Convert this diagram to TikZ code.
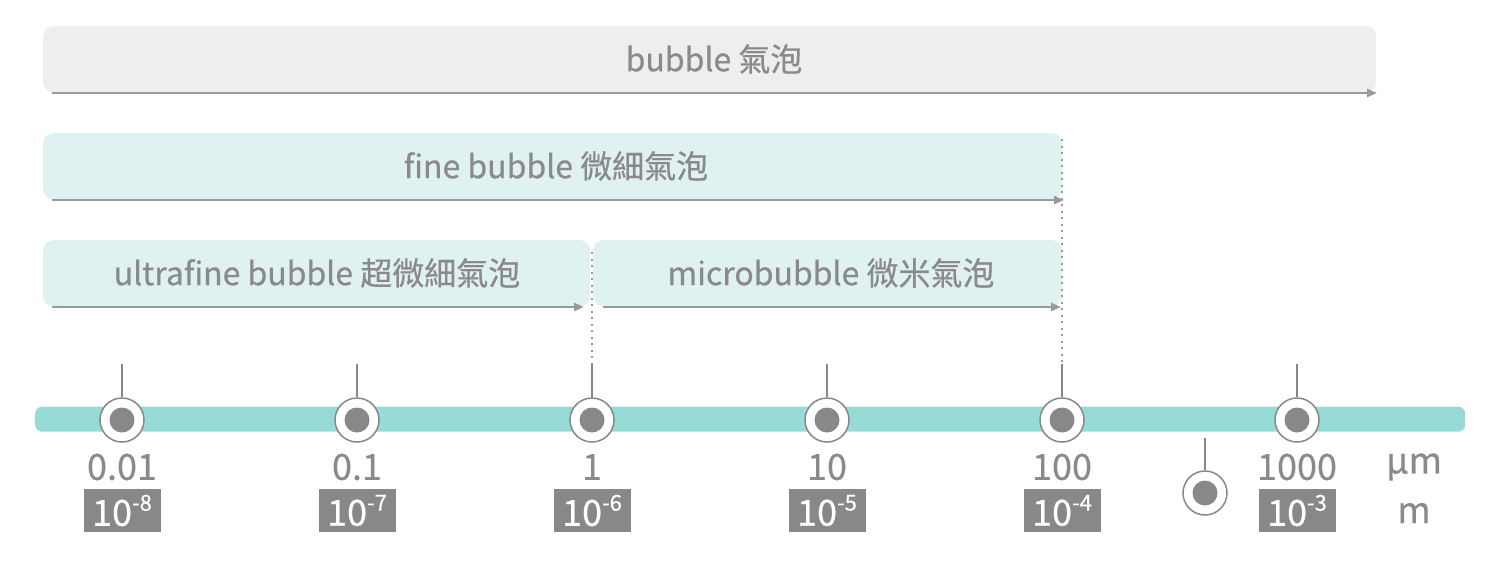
\documentclass[tikz,border=0pt]{standalone}
\usepackage{fontspec}
\setmainfont{Noto Sans CJK TC}[FakeBold=0.5]
\usetikzlibrary{arrows.meta}
\definecolor{txt}{HTML}{8A8A8A}
\definecolor{graybg}{HTML}{EEEEEE}
\definecolor{tealbg}{HTML}{DFF2F1}
\definecolor{barc}{HTML}{96DBD5}
\definecolor{linec}{HTML}{999999}
\definecolor{dotc}{HTML}{888888}
\tikzset{
  band/.style={rounded corners=10pt, inner sep=0pt, anchor=north west, minimum height=66pt},
  bandtxt/.style={text=txt, font=\fontsize{32}{32}\selectfont, inner sep=0pt},
  arr/.style={draw=linec, line width=2.5pt, -{Triangle[length=10pt,width=8pt]}},
  dotln/.style={draw=linec, line width=2.6pt, dash pattern=on 2.2pt off 4.3pt},
  tickln/.style={draw=dotc, line width=1.5pt},
  ring/.style={circle, draw=dotc, line width=1.5pt, fill=white, minimum size=44pt, inner sep=0pt},
  dotc/.style={circle, fill=dotc, minimum size=25pt, inner sep=0pt},
  numlbl/.style={text=txt, font=\fontsize{36}{36}\selectfont, inner sep=0pt},
  expbox/.style={fill=dotc, text=white, minimum width=77pt, minimum height=43pt, inner sep=0pt, font=\fontsize{36}{36}\selectfont},
}
\newcommand{\expo}[1]{10\raisebox{0.42em}{\fontsize{22}{22}\selectfont #1}}
\begin{document}
\begin{tikzpicture}[x=1pt,y=-1pt]
\useasboundingbox (0,0) rectangle (1500,563);

% bands
\node[band, fill=graybg, minimum width=1333pt] (bubble) at (43,26) {};
\node[bandtxt] (bubbletxt) at (714,59) {bubble 氣泡};
\node[band, fill=tealbg, minimum width=1019pt] (fine) at (43,133) {};
\node[bandtxt] (finetxt) at (556,166) {fine bubble 微細氣泡};
\node[band, fill=tealbg, minimum width=547pt] (ultra) at (43,240) {};
\node[bandtxt] (ultratxt) at (317,273) {ultrafine bubble 超微細氣泡};
\node[band, fill=tealbg, minimum width=469pt] (micro) at (593,240) {};
\node[bandtxt] (microtxt) at (831,273) {microbubble 微米氣泡};

% arrows
\coordinate (a1s) at (52,93);   \coordinate (a1e) at (1377,93);
\coordinate (a2s) at (52,200);  \coordinate (a2e) at (1064,200);
\coordinate (a3s) at (52,307);  \coordinate (a3e) at (584,307);
\coordinate (a4s) at (603,307); \coordinate (a4e) at (1061,307);
\draw[arr] (a1s) -- (a1e);
\draw[arr] (a2s) -- (a2e);
\draw[arr] (a3s) -- (a3e);
\draw[arr] (a4s) -- (a4e);

% dotted separators
\coordinate (d1s) at (592,252); \coordinate (d1e) at (592,364);
\coordinate (d2s) at (1062,139); \coordinate (d2e) at (1062,364);
\draw[dotln] (d1s) -- (d1e);
\draw[dotln] (d2s) -- (d2e);

% timeline bar
\node[fill=barc, rounded corners=7pt, inner sep=0pt, minimum width=1430pt, minimum height=25pt, anchor=north west] (bar) at (35,406.5) {};

% ticks and markers
\foreach \i/\x/\n/\e in {1/122/0.01/-8, 2/357/0.1/-7, 3/592/1/-6, 4/827/10/-5, 5/1062/100/-4, 6/1297/1000/-3}{
  \coordinate (t\i) at (\x,364);
  \node[ring] (r\i) at (\x,420) {};
  \node[dotc] (k\i) at (\x,420) {};
  \draw[tickln] (t\i) -- (r\i.north);
  \node[numlbl] (n\i) at (\x,467) {\n};
  \node[expbox] (e\i) at (\x,510.5) {\expo{\e}};
}
\coordinate (t7) at (1205,438);
\node[ring] (r7) at (1205,493) {};
\node[dotc] (k7) at (1205,493) {};
\draw[tickln] (t7) -- (r7.north);

% units
\node[numlbl] (um) at (1414,467) {μm};
\node[numlbl] (mm) at (1414,513) {m};
\end{tikzpicture}
\end{document}
